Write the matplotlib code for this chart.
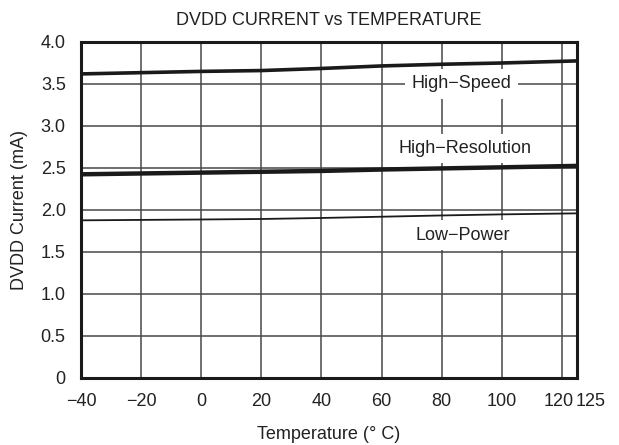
import numpy as np
import matplotlib
matplotlib.use("Agg")
import matplotlib.pyplot as plt
from matplotlib.transforms import ScaledTranslation

plt.rcParams['font.family'] = ['Liberation Sans', 'DejaVu Sans']

# temperature points (deg C)
temp = [-40, -20, 0, 20, 40, 60, 80, 100, 125]

# DVDD current (mA)
high_speed = [3.62, 3.635, 3.65, 3.66, 3.685, 3.715, 3.735, 3.75, 3.775]
high_res = [2.425, 2.435, 2.445, 2.455, 2.465, 2.482, 2.495, 2.508, 2.525]
low_power = [1.877, 1.882, 1.887, 1.893, 1.905, 1.92, 1.935, 1.948, 1.96]

xticks = [-40, -20, 0, 20, 40, 60, 80, 100, 120, 125]
xtick_labels = ['\u221240', '\u221220', '0', '20', '40', '60', '80', '100', '120', '125']
yticks = [0, 0.5, 1.0, 1.5, 2.0, 2.5, 3.0, 3.5, 4.0]
ytick_labels = ['0', '0.5', '1.0', '1.5', '2.0', '2.5', '3.0', '3.5', '4.0']

fs = 13
txt = '#222222'

fig = plt.figure(figsize=(6.19, 4.45), dpi=100)
ax = fig.add_axes([81/619, 1-378/445, 496/619, 336/445])

ax.set_xlim(-40, 125)
ax.set_ylim(0, 4.0)

# grid
for xv in xticks[1:-1]:
    ax.axvline(xv, color='#484848', lw=1.1, zorder=1)
for yv in yticks[1:-1]:
    ax.axhline(yv, color='#484848', lw=1.1, zorder=1)

ax.plot(temp, high_speed, color='#1a1a1a', lw=2.6, zorder=3)
ax.plot(temp, high_res, color='#1a1a1a', lw=3.2, zorder=3)
ax.plot(temp, low_power, color='#1a1a1a', lw=1.3, zorder=3)

box = dict(facecolor='white', edgecolor='none', pad=4.5)
ax.text(86.5, 3.5, 'High\u2212Speed', ha='center', va='center', fontsize=fs, bbox=box, zorder=4, color=txt)
ax.text(87.7, 2.73, 'High\u2212Resolution', ha='center', va='center', fontsize=fs, bbox=box, zorder=4, color=txt)
ax.text(87, 1.70, 'Low\u2212Power', ha='center', va='center', fontsize=fs, bbox=box, zorder=4, color=txt)

ax.set_xticks(xticks)
ax.set_xticklabels(xtick_labels)
ax.set_yticks(yticks)
ax.set_yticklabels(ytick_labels)
ax.tick_params(length=0, labelsize=fs, colors=txt)
ax.tick_params(axis='x', pad=11)
ax.tick_params(axis='y', pad=11)

# 120 and 125 sit close together: nudge them apart like the original
xl = ax.get_xticklabels()
xl[-2].set_transform(xl[-2].get_transform() + ScaledTranslation(-3/100, 0, fig.dpi_scale_trans))
xl[-1].set_ha('left')
xl[-1].set_transform(xl[-1].get_transform() + ScaledTranslation(-1/100, 0, fig.dpi_scale_trans))

for s in ax.spines.values():
    s.set_linewidth(2.2)
    s.set_color('#1a1a1a')

ax.set_title('DVDD CURRENT vs TEMPERATURE', fontsize=fs, color=txt, pad=12)
ax.set_xlabel('Temperature (\u00b0 C)', fontsize=fs, color=txt, labelpad=11)
ax.set_ylabel('DVDD Current (mA)', fontsize=fs, color=txt, labelpad=9)

fig.savefig('out.png', dpi=100)
